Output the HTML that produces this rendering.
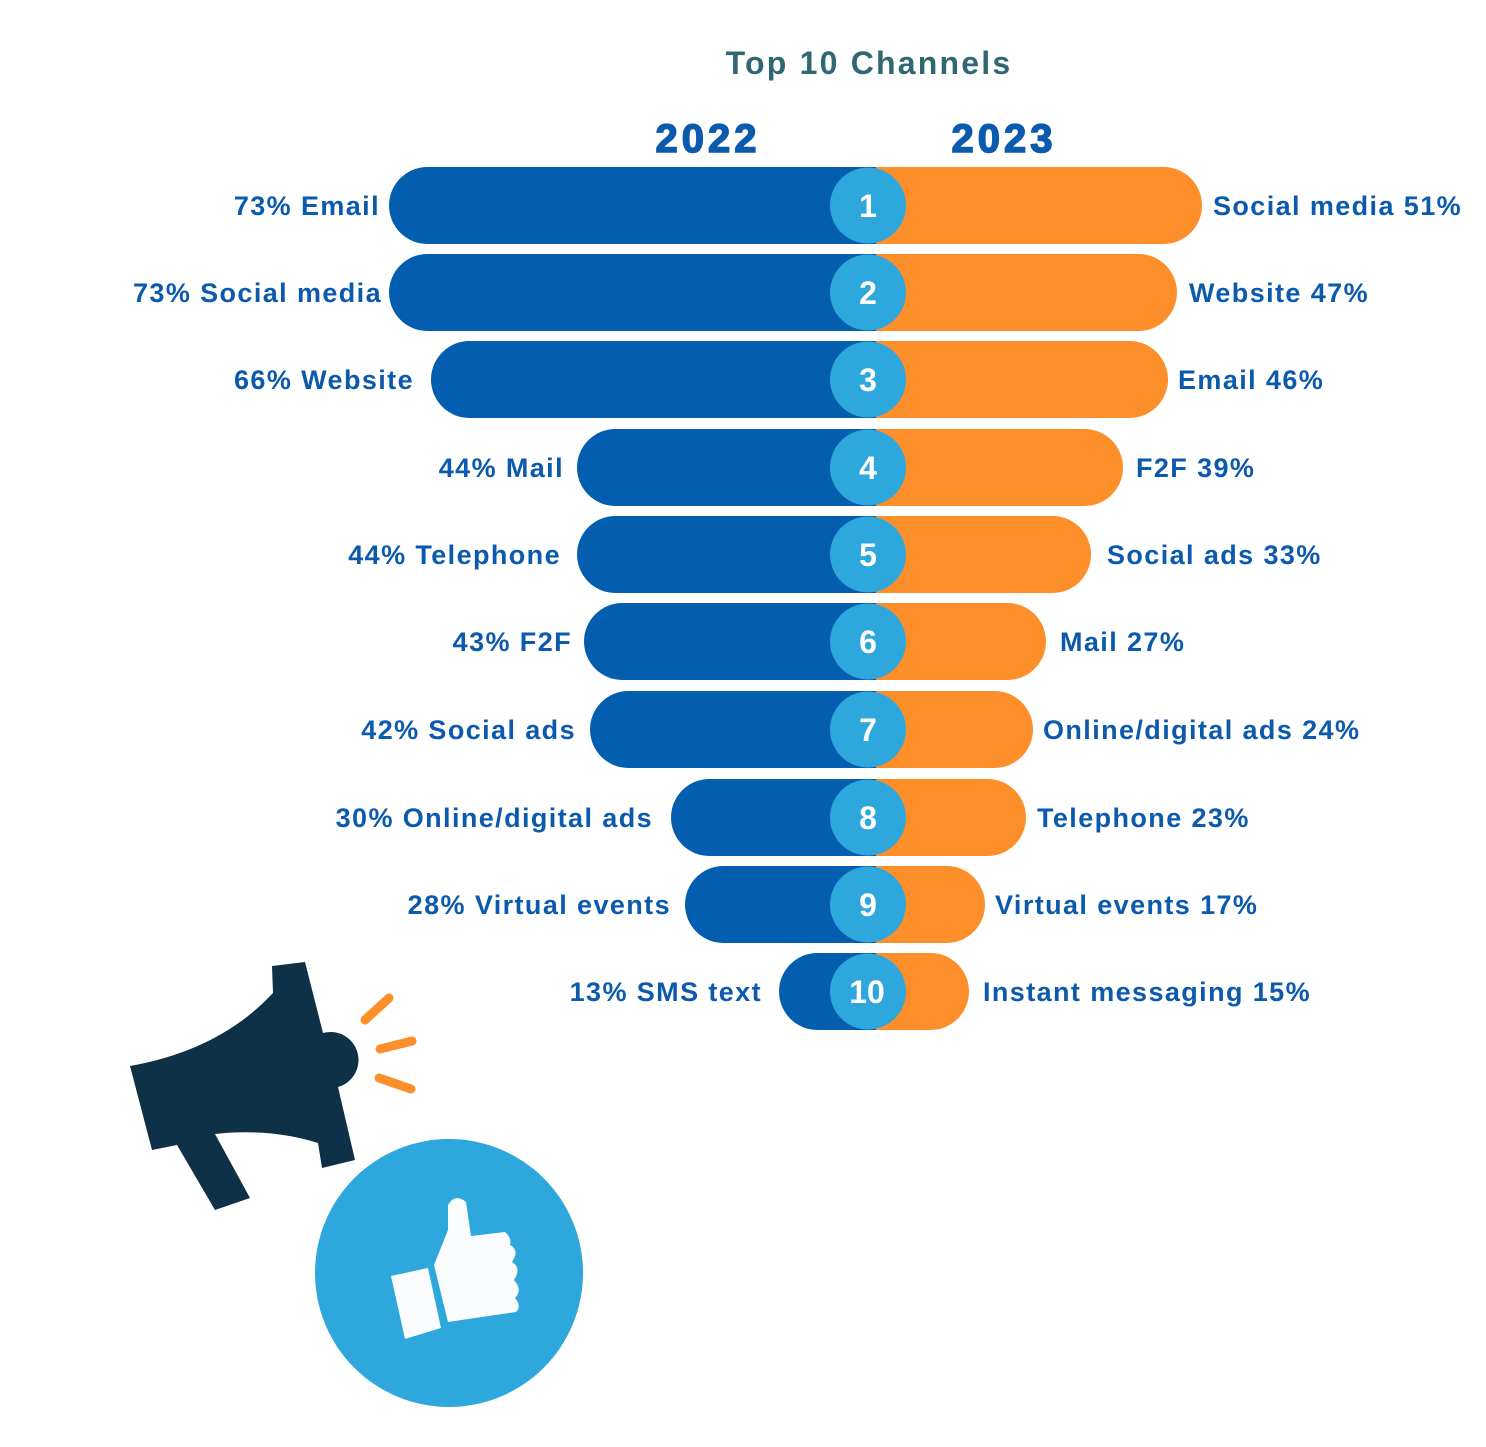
<!DOCTYPE html>
<html><head><meta charset="utf-8"><style>
html,body{margin:0;padding:0;background:#fff;}
svg{display:block;}
.l{font-family:"Liberation Sans",sans-serif;font-weight:bold;font-size:27px;fill:#0b5aad;letter-spacing:1.4px;}
.n{font-family:"Liberation Sans",sans-serif;font-weight:900;font-size:32px;fill:#fff;}
</style></head><body>
<svg width="1486" height="1447" viewBox="0 0 1486 1447" xmlns="http://www.w3.org/2000/svg">
<text x="869" y="74" text-anchor="middle" font-family="Liberation Sans, sans-serif" font-weight="bold" font-size="32" fill="#2f6870" letter-spacing="2.2">Top 10 Channels</text>
<text x="708" y="152" text-anchor="middle" font-family="Liberation Sans, sans-serif" font-weight="900" font-size="40" fill="#0b5aad" stroke="#0b5aad" stroke-width="1.5" letter-spacing="4">2022</text>
<text x="1004" y="152" text-anchor="middle" font-family="Liberation Sans, sans-serif" font-weight="900" font-size="40" fill="#0b5aad" stroke="#0b5aad" stroke-width="1.5" letter-spacing="4">2023</text>
<g>
<rect x="389" y="167" width="520" height="77" rx="38.5" fill="#035eb0"/><rect x="840" y="167" width="362" height="77" rx="38.5" fill="#fd8f2b"/><rect x="876" y="167" width="40" height="77" fill="#fd8f2b"/><rect x="840" y="167" width="36" height="77" fill="#035eb0"/>
<rect x="389" y="254" width="520" height="77" rx="38.5" fill="#035eb0"/><rect x="840" y="254" width="337" height="77" rx="38.5" fill="#fd8f2b"/><rect x="876" y="254" width="40" height="77" fill="#fd8f2b"/><rect x="840" y="254" width="36" height="77" fill="#035eb0"/>
<rect x="431" y="341" width="478" height="77" rx="38.5" fill="#035eb0"/><rect x="840" y="341" width="328" height="77" rx="38.5" fill="#fd8f2b"/><rect x="876" y="341" width="40" height="77" fill="#fd8f2b"/><rect x="840" y="341" width="36" height="77" fill="#035eb0"/>
<rect x="577" y="429" width="332" height="77" rx="38.5" fill="#035eb0"/><rect x="840" y="429" width="283" height="77" rx="38.5" fill="#fd8f2b"/><rect x="876" y="429" width="40" height="77" fill="#fd8f2b"/><rect x="840" y="429" width="36" height="77" fill="#035eb0"/>
<rect x="577" y="516" width="332" height="77" rx="38.5" fill="#035eb0"/><rect x="840" y="516" width="251" height="77" rx="38.5" fill="#fd8f2b"/><rect x="876" y="516" width="40" height="77" fill="#fd8f2b"/><rect x="840" y="516" width="36" height="77" fill="#035eb0"/>
<rect x="584" y="603" width="325" height="77" rx="38.5" fill="#035eb0"/><rect x="840" y="603" width="206" height="77" rx="38.5" fill="#fd8f2b"/><rect x="876" y="603" width="40" height="77" fill="#fd8f2b"/><rect x="840" y="603" width="36" height="77" fill="#035eb0"/>
<rect x="590" y="691" width="319" height="77" rx="38.5" fill="#035eb0"/><rect x="840" y="691" width="193" height="77" rx="38.5" fill="#fd8f2b"/><rect x="876" y="691" width="40" height="77" fill="#fd8f2b"/><rect x="840" y="691" width="36" height="77" fill="#035eb0"/>
<rect x="671" y="779" width="238" height="77" rx="38.5" fill="#035eb0"/><rect x="840" y="779" width="186" height="77" rx="38.5" fill="#fd8f2b"/><rect x="876" y="779" width="40" height="77" fill="#fd8f2b"/><rect x="840" y="779" width="36" height="77" fill="#035eb0"/>
<rect x="685" y="866" width="224" height="77" rx="38.5" fill="#035eb0"/><rect x="840" y="866" width="145" height="77" rx="38.5" fill="#fd8f2b"/><rect x="876" y="866" width="40" height="77" fill="#fd8f2b"/><rect x="840" y="866" width="36" height="77" fill="#035eb0"/>
<rect x="779" y="953" width="130" height="77" rx="38.5" fill="#035eb0"/><rect x="840" y="953" width="129" height="77" rx="38.5" fill="#fd8f2b"/><rect x="876" y="953" width="40" height="77" fill="#fd8f2b"/><rect x="840" y="953" width="36" height="77" fill="#035eb0"/>
</g>
<g fill="#2ea7dc">
<circle cx="868" cy="205.5" r="38"/><circle cx="868" cy="292.5" r="38"/><circle cx="868" cy="379.5" r="38"/><circle cx="868" cy="467.5" r="38"/><circle cx="868" cy="554.5" r="38"/><circle cx="868" cy="641.5" r="38"/><circle cx="868" cy="729.5" r="38"/><circle cx="868" cy="817.5" r="38"/><circle cx="868" cy="904.5" r="38"/><circle cx="868" cy="991.5" r="38"/>
</g>
<g text-anchor="middle">
<text class="n" x="868" y="217">1</text><text class="n" x="868" y="304">2</text><text class="n" x="868" y="391">3</text><text class="n" x="868" y="479">4</text><text class="n" x="868" y="566">5</text><text class="n" x="868" y="653">6</text><text class="n" x="868" y="741">7</text><text class="n" x="868" y="829">8</text><text class="n" x="868" y="916">9</text><text class="n" x="867" y="1003">10</text>
</g>
<g text-anchor="end">
<text class="l" x="380" y="215">73% Email</text>
<text class="l" x="382" y="302">73% Social media</text>
<text class="l" x="414" y="389">66% Website</text>
<text class="l" x="564" y="477">44% Mail</text>
<text class="l" x="561" y="564">44% Telephone</text>
<text class="l" x="572" y="651">43% F2F</text>
<text class="l" x="576" y="739">42% Social ads</text>
<text class="l" x="653" y="827">30% Online/digital ads</text>
<text class="l" x="671" y="914">28% Virtual events</text>
<text class="l" x="762" y="1001">13% SMS text</text>
</g>
<g>
<text class="l" x="1213" y="215">Social media 51%</text>
<text class="l" x="1189" y="302">Website 47%</text>
<text class="l" x="1178" y="389">Email 46%</text>
<text class="l" x="1136" y="477">F2F 39%</text>
<text class="l" x="1107" y="564">Social ads 33%</text>
<text class="l" x="1060" y="651">Mail 27%</text>
<text class="l" x="1043" y="739">Online/digital ads 24%</text>
<text class="l" x="1037" y="827">Telephone 23%</text>
<text class="l" x="995" y="914">Virtual events 17%</text>
<text class="l" x="983" y="1001">Instant messaging 15%</text>
</g>
<path d="M130,1066 Q220,1050 273,993 L272,966 L305,962 L323,1033 A26,26 0 0 1 338,1087 L355,1160 L322,1168 L318,1143 Q270,1128 215,1134 L250,1198 L215,1210 L177,1145 L152,1150 Z" fill="#0f3147"/>
<g stroke="#fd8f2b" stroke-width="9" stroke-linecap="round">
<line x1="365" y1="1020" x2="389" y2="998"/>
<line x1="380" y1="1049" x2="412" y2="1041"/>
<line x1="379" y1="1078" x2="411" y2="1089"/>
</g>
<circle cx="449" cy="1273" r="134" fill="#2ea7dc"/>
<path d="M391,1276 L428,1268 L441,1328 L405,1339 Z" fill="#fafcfd"/>
<path d="M434,1265 L448,1230 L448,1205 Q455,1193 466,1202 L471,1236 L505,1232 Q512,1238 510,1245 Q520,1250 512,1262 Q522,1268 514,1280 Q523,1290 515,1298 Q522,1306 516,1312 L448,1322 Z" fill="#fafcfd"/>
</svg>
</body></html>
